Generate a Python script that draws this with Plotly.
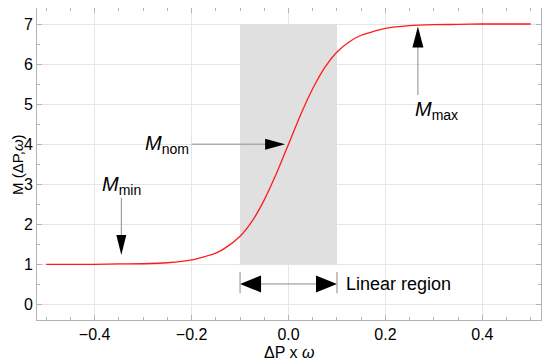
import plotly.graph_objects as go

# Data
dp_omega = [-0.5, -0.45, -0.4, -0.35, -0.3, -0.25, -0.2, -0.15, -0.125, -0.1, -0.075, -0.05, -0.025,
            0.0, 0.025, 0.05, 0.075, 0.1, 0.125, 0.15, 0.2, 0.25, 0.3, 0.35, 0.4, 0.45, 0.5]
m_values = [1.00, 1.00, 1.00, 1.01, 1.015, 1.04, 1.11, 1.28, 1.455, 1.70, 2.08, 2.61, 3.265,
            4.00, 4.735, 5.39, 5.92, 6.30, 6.55, 6.72, 6.89, 6.96, 6.985, 6.99, 7.00, 7.00, 7.00]

x_ticks = [-0.4, -0.2, 0.0, 0.2, 0.4]
x_tick_labels = ["\u22120.4", "\u22120.2", "0.0", "0.2", "0.4"]
y_ticks = [0, 1, 2, 3, 4, 5, 6, 7]

linear_region = [-0.1, 0.1]
m_min, m_max, m_nom = 1, 7, 4

FONT = "Liberation Sans, Arial, sans-serif"
GRID = "#e6e6e6"
FRAME = "#b4b4b4"
SHAFT = "#8c8c8c"

fig = go.Figure()
fig.add_trace(go.Scatter(x=dp_omega, y=m_values, mode="lines",
                         line=dict(color="#ff1a1a", width=1.3, shape="spline", smoothing=0.6),
                         hoverinfo="skip", showlegend=False))

shapes = []
# shaded linear region
shapes.append(dict(type="rect", xref="x", yref="y", x0=linear_region[0], x1=linear_region[1],
                   y0=m_min, y1=m_max, fillcolor="#e0e0e0", line=dict(width=0), layer="between"))
# vertical axis line at 0
shapes.append(dict(type="line", xref="x", yref="paper", x0=0, x1=0, y0=0, y1=1,
                   line=dict(color="#a0a0a0", width=1), layer="between"))

def shaft(x0, y0, x1, y1):
    shapes.append(dict(type="line", xref="x", yref="y", x0=x0, y0=y0, x1=x1, y1=y1,
                       line=dict(color=SHAFT, width=1), layer="above"))

def head(x, y, path):
    shapes.append(dict(type="path", xref="x", yref="y", xsizemode="pixel", ysizemode="pixel",
                       xanchor=x, yanchor=y, path=path, fillcolor="black",
                       line=dict(width=0), layer="above"))

# M_min arrow (down)
shaft(-0.345, 2.66, -0.345, 1.6)
head(-0.345, 1.23, "M0,0 L-5,20 L5,20 Z")
# M_nom arrow (right)
shaft(-0.2, 4.0, -0.03, 4.0)
head(-0.007, 4.0, "M0,0 L-20,5.5 L-20,-5.5 Z")
# M_max arrow (up)
shaft(0.267, 5.23, 0.267, 6.5)
head(0.267, 6.94, "M0,0 L-5.5,-21 L5.5,-21 Z")
# Linear region double arrow
shaft(-0.09, 0.51, 0.09, 0.51)
head(-0.1, 0.51, "M0,0 L21,8.5 L21,-8.5 Z")
head(0.1, 0.51, "M0,0 L-21,8.5 L-21,-8.5 Z")
shapes.append(dict(type="line", xref="x", yref="y", x0=-0.1, x1=-0.1, y0=0.28, y1=0.81,
                   line=dict(color=SHAFT, width=1), layer="above"))
shapes.append(dict(type="line", xref="x", yref="y", x0=0.1, x1=0.1, y0=0.28, y1=0.81,
                   line=dict(color=SHAFT, width=1), layer="above"))

annotations = [
    dict(x=-0.345, y=2.96, xref="x", yref="y", text="<i>M</i><sub>min</sub>", showarrow=False,
         font=dict(family=FONT, size=20, color="black"), xanchor="center", yanchor="middle"),
    dict(x=-0.202, y=4.0, xref="x", yref="y", text="<i>M</i><sub>nom</sub>", showarrow=False,
         font=dict(family=FONT, size=20, color="black"), xanchor="right", yanchor="middle"),
    dict(x=0.305, y=4.85, xref="x", yref="y", text="<i>M</i><sub>max</sub>", showarrow=False,
         font=dict(family=FONT, size=20, color="black"), xanchor="center", yanchor="middle"),
    dict(x=0.115, y=0.51, xref="x", yref="y", text="Linear region", showarrow=False,
         font=dict(family=FONT, size=18, color="black"), xanchor="left", yanchor="middle"),
    # axis titles
    dict(x=0.5, y=-0.103, xref="paper", yref="paper", text="\u0394P x <i>\u03c9</i>", showarrow=False,
         font=dict(family=FONT, size=16, color="black"), xanchor="center", yanchor="middle"),
    dict(x=-0.0397, y=0.5, xref="paper", yref="paper", text="M (\u0394P,<i>\u03c9</i>)", showarrow=False,
         textangle=-90, font=dict(family=FONT, size=15, color="black"), xanchor="center", yanchor="middle"),
]

# The page body adds an 8px margin; the figure is sized/offset to compensate.
fig.update_layout(
    width=542, height=355,
    margin=dict(l=29, r=9, t=0, b=43),
    paper_bgcolor="white", plot_bgcolor="white",
    shapes=shapes, annotations=annotations,
    font=dict(family=FONT, size=16, color="black"),
    xaxis=dict(range=[-0.519, 0.521], tickvals=x_ticks, ticktext=x_tick_labels, automargin=False,
               ticks="inside", ticklen=5, tickcolor=FRAME, showline=True, linecolor=FRAME,
               linewidth=1, mirror="allticks", showgrid=True, gridcolor=GRID, gridwidth=1,
               zeroline=False,
               minor=dict(tickmode="linear", tick0=0, dtick=0.05, ticks="inside", ticklen=3,
                          tickcolor=FRAME, showgrid=False),
               tickfont=dict(family=FONT, size=16)),
    yaxis=dict(range=[-0.39, 7.4], tickvals=y_ticks, automargin=False,
               ticks="inside", ticklen=5, tickcolor=FRAME, showline=True, linecolor=FRAME,
               linewidth=1, mirror="allticks", showgrid=True, gridcolor=GRID, gridwidth=1,
               zeroline=False,
               minor=dict(tickmode="linear", tick0=0, dtick=0.5, ticks="inside", ticklen=3,
                          tickcolor=FRAME, showgrid=False),
               tickfont=dict(family=FONT, size=16)),
)

fig.write_html("out.html")
